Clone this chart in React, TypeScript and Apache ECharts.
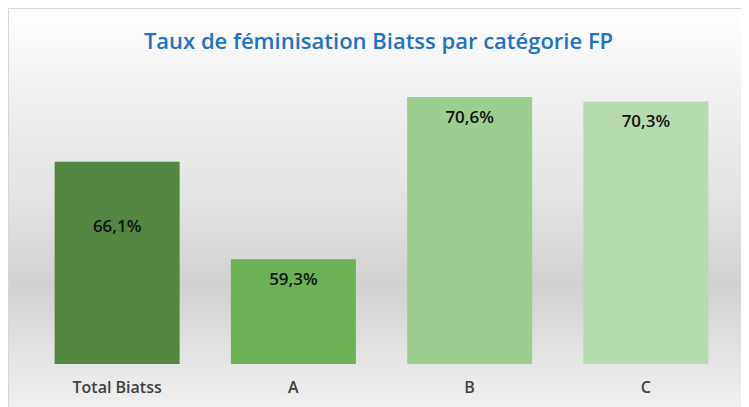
import React, { useEffect, useRef } from "react";
import * as echarts from "echarts";

const categories = ["Total Biatss", "A", "B", "C"];
const values = [66.1, 59.3, 70.6, 70.3];
const barColors = ["#538640", "#6BB256", "#9CCF8F", "#B7DBB1"];
const labelOffsets = [44, 0, 0, 0];
const titleText = "Taux de féminisation Biatss par catégorie FP";

export default function App() {
  const ref = useRef<HTMLDivElement>(null);
  useEffect(() => {
    if (!ref.current) return;
    const chart = echarts.init(ref.current, null, { renderer: "svg" });
    chart.setOption({
      animation: false,
      title: {
        text: titleText,
        left: "center",
        top: 16,
        textStyle: {
          fontFamily: "Open Sans",
          fontSize: 22,
          fontWeight: 600,
          color: "#1F72BE",
        },
      },
      graphic: [
        {
          type: "rect",
          z: -10,
          silent: true,
          shape: { x: 0, y: 0, width: 760, height: 420 },
          style: {
            fill: new echarts.graphic.LinearGradient(0, 0, 0, 1, [
              { offset: 0, color: "#ffffff" },
              { offset: 0.15, color: "#f4f4f4" },
              { offset: 0.45, color: "#e2e3e3" },
              { offset: 0.66, color: "#d1d1d1" },
              { offset: 0.85, color: "#e6e6e6" },
              { offset: 1, color: "#f6f6f6" },
            ]),
            stroke: "#d6d6d6",
            lineWidth: 1,
          },
          x: 0.5,
          y: 0.5,
        },
      ],
      grid: { left: 21, right: 15, top: 69, bottom: 43 },
      xAxis: {
        type: "category",
        data: categories,
        axisLine: { show: false },
        axisTick: { show: false },
        axisLabel: {
          margin: 15,
          fontFamily: "Open Sans",
          fontSize: 16,
          fontWeight: 600,
          color: "#404040",
        },
      },
      yAxis: {
        type: "value",
        min: 52,
        max: 72,
        show: false,
        splitLine: { show: false },
      },
      series: [
        {
          type: "bar",
          barWidth: 125,
          data: values.map((v, i) => ({
            value: v,
            itemStyle: { color: barColors[i] },
            label: { offset: [0, labelOffsets[i]] },
          })),
          label: {
            show: true,
            position: "insideTop",
            distance: 11,
            formatter: (p: any) => String(p.value).replace(".", ",") + "%",
            fontFamily: "Open Sans",
            fontSize: 17,
            fontWeight: 600,
            color: "#111111",
          },
        },
      ],
    });
    return () => chart.dispose();
  }, []);
  return <div ref={ref} style={{ width: 741, height: 399 }} />;
}
